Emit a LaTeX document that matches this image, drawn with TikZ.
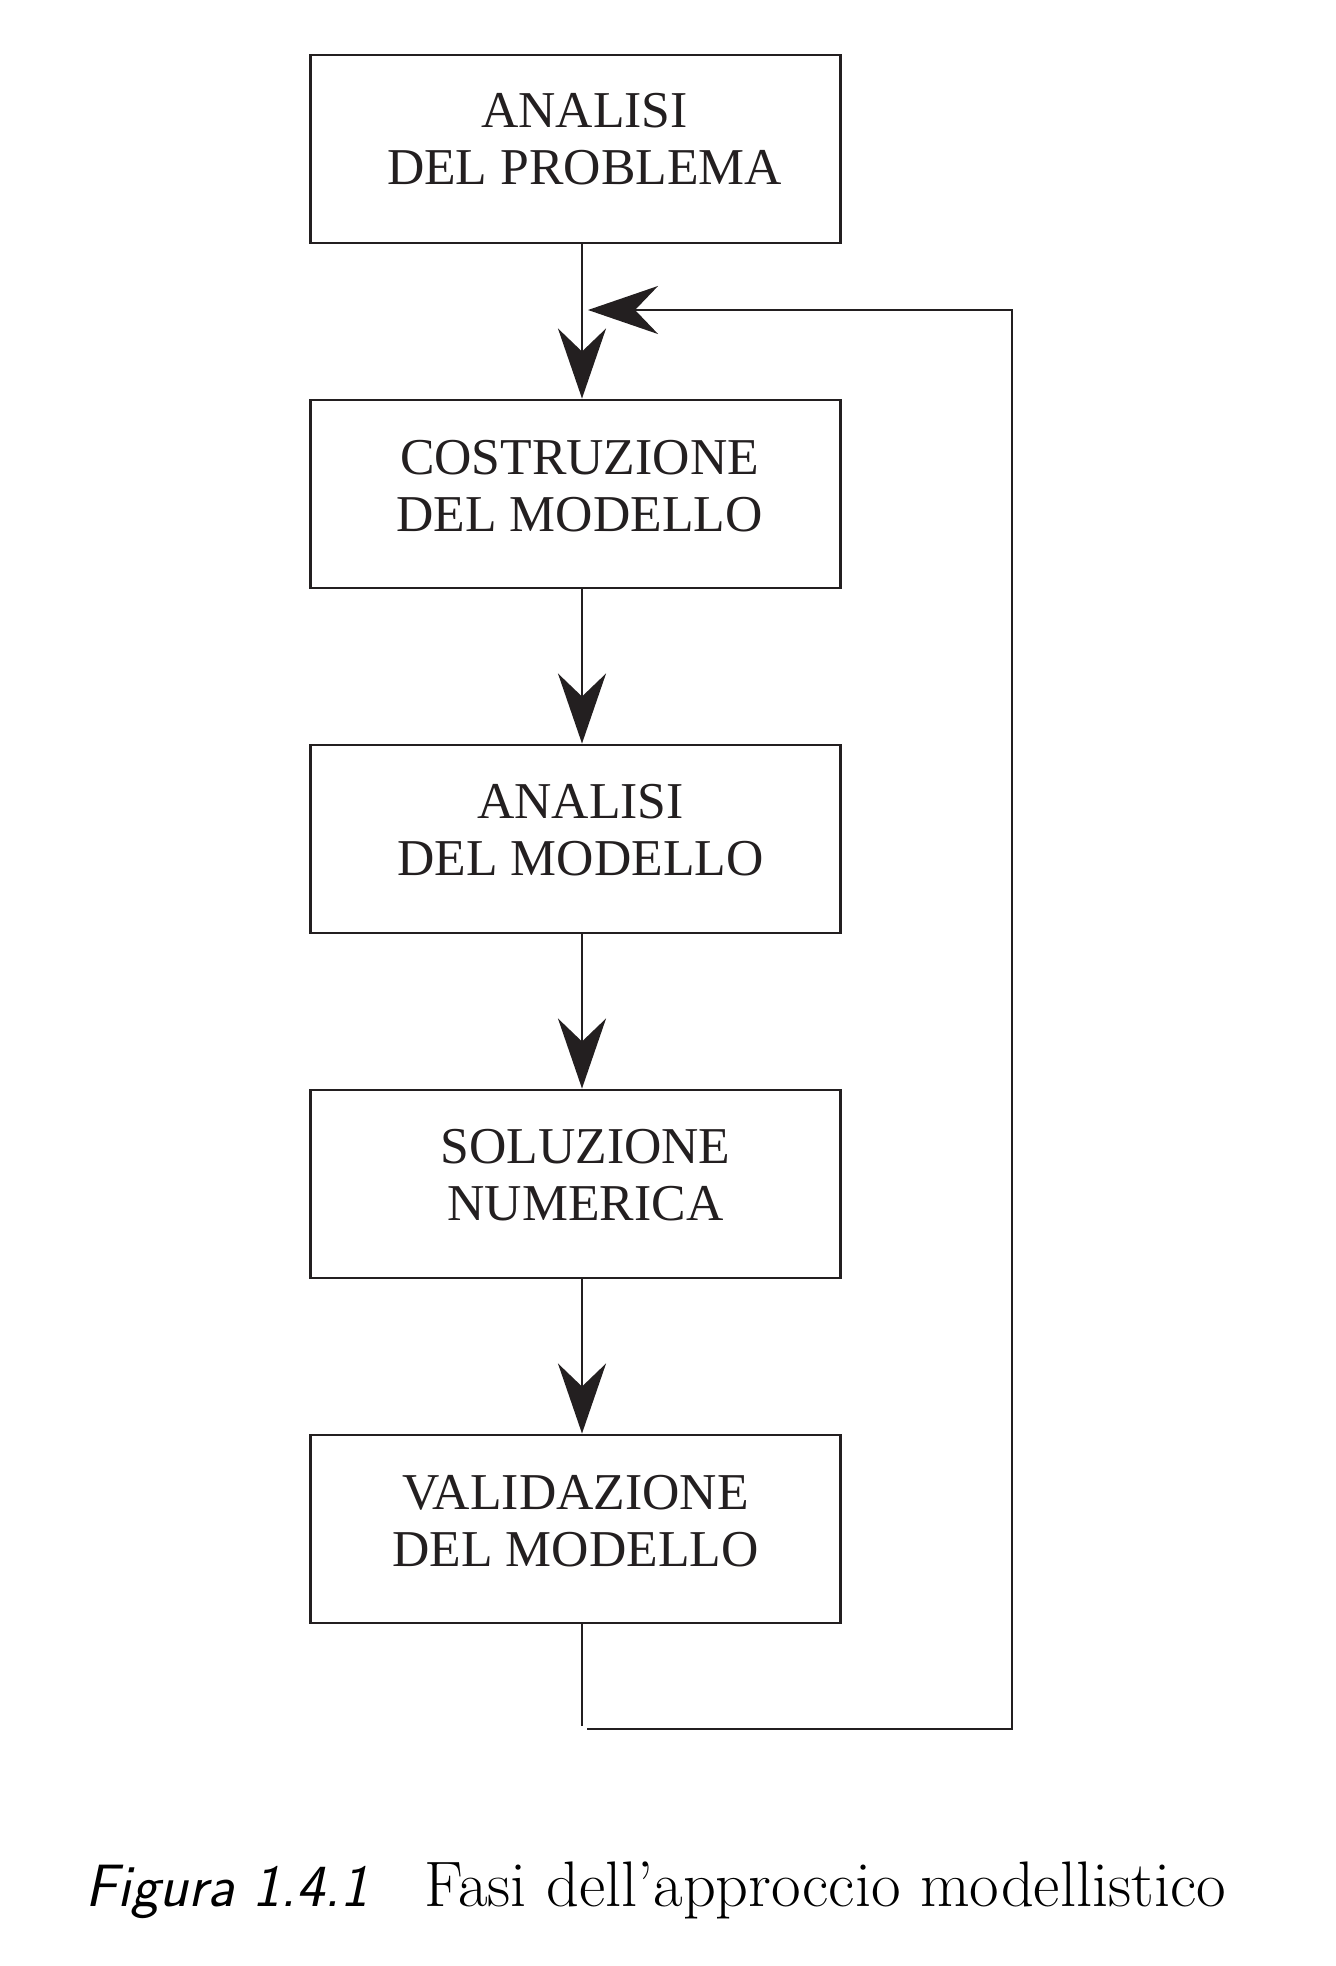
\documentclass[tikz,border=0pt]{standalone}
\usepackage{fontspec}
\newfontfamily\boxfont{Liberation Serif}
\usetikzlibrary{arrows.meta}
\definecolor{inkblack}{RGB}{35,31,32}

\begin{document}
\begin{tikzpicture}[x=0.01cm, y=-0.01cm,
		phase/.style={draw=inkblack, line width=0.8pt, minimum width=5.29cm, minimum height=1.88cm, inner sep=0pt},
		phasetext/.style={inner sep=0pt, align=center, text=inkblack,
			font=\boxfont\fontsize{14.7}{16.05}\selectfont},
		flow/.style={draw=inkblack, line width=0.6pt, -{Stealth[length=0.7cm, width=0.48cm, inset=0.23cm]}},
		loopline/.style={draw=inkblack, line width=0.6pt}]
			%%%%% START %%%%%
			
			\useasboundingbox (0,0) rectangle (1335,1966);
			
			\node[phase] (analisi) at (575.5,149) {};
			\node[phasetext] (analisi-t) at ([shift={(9,-10)}]analisi.center) {ANALISI\\DEL PROBLEMA};
			
			\node[phase] (costruzione) at (575.5,494) {};
			\node[phasetext] (costruzione-t) at ([shift={(4,-8)}]costruzione.center) {COSTRUZIONE\\DEL MODELLO};
			
			\node[phase] (modello) at (575.5,839) {};
			\node[phasetext] (modello-t) at ([shift={(5,-9)}]modello.center) {ANALISI\\DEL MODELLO};
			
			\node[phase] (soluzione) at (575.5,1184) {};
			\node[phasetext] (soluzione-t) at ([shift={(10,-9)}]soluzione.center) {SOLUZIONE\\NUMERICA};
			
			\node[phase] (validazione) at (575.5,1529) {};
			\node[phasetext] (validazione-t) at ([shift={(0,-8)}]validazione.center) {VALIDAZIONE\\DEL MODELLO};
			
			\coordinate (axis) at (582,0);
			
			\draw[flow] (analisi.south -| axis) -- (costruzione.north -| axis);
			\draw[flow] (costruzione.south -| axis) -- (modello.north -| axis);
			\draw[flow] (modello.south -| axis) -- (soluzione.north -| axis);
			\draw[flow] (soluzione.south -| axis) -- (validazione.north -| axis);
			
			% ritorno
			\coordinate (fondo) at (582,1726);
			\coordinate (ritorno) at (587,1729);
			\coordinate (lato) at (1012,310);
			\coordinate (ingresso) at (588,310);
			
			\draw[loopline] (validazione.south -| axis) -- (fondo);
			\draw[flow] (ritorno) -| (lato) -- (ingresso);
			
			\node[anchor=base west, inner sep=0pt] (didascalia) at (85,1906)
				{{\fontsize{17}{20}\selectfont\sffamily\itshape Figura 1.4.1}\hspace{0.56cm}{\fontsize{18.3}{21}\selectfont Fasi dell'approccio modellistico}};
			
			%%%%% END %%%%%
\end{tikzpicture}
\end{document}
